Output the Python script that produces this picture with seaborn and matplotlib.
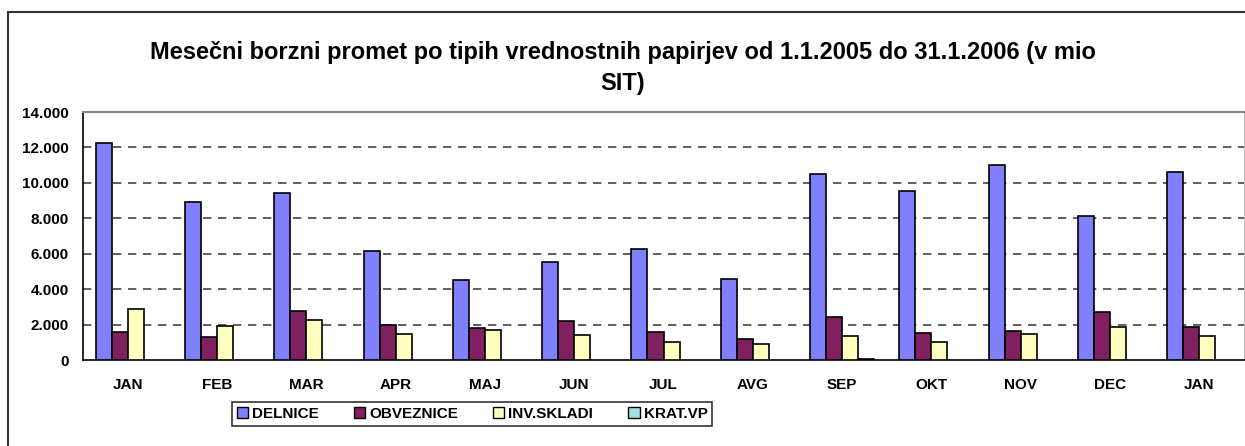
import pandas as pd
import numpy as np
import matplotlib.pyplot as plt
import seaborn as sns
from matplotlib.ticker import FuncFormatter, FixedLocator
import matplotlib.patches as mpatches

# podatki (v mio SIT), odčitani s slike
meseci = ['JAN', 'FEB', 'MAR', 'APR', 'MAJ', 'JUN', 'JUL', 'AVG', 'SEP', 'OKT', 'NOV', 'DEC', 'JAN']
delnice = [12270, 8940, 9410, 6150, 4530, 5530, 6250, 4570, 10480, 9520, 11010, 8110, 10630]
obveznice = [1560, 1320, 2780, 1980, 1790, 2180, 1560, 1200, 2450, 1510, 1640, 2690, 1850]
inv_skladi = [2860, 1920, 2260, 1450, 1710, 1410, 1000, 920, 1370, 1030, 1450, 1860, 1370]
krat_vp = [0, 0, 0, 0, 0, 0, 0, 0, 40, 0, 0, 0, 0]

serije = ['DELNICE', 'OBVEZNICE', 'INV.SKLADI', 'KRAT.VP']
barve = ['#8080FF', '#802060', '#FFFFC0', '#A0E0E0']

# long-form tabela za seaborn
rows = []
for name, vals in zip(serije, [delnice, obveznice, inv_skladi, krat_vp]):
    for i, v in enumerate(vals):
        rows.append({'idx': i, 'serija': name, 'vrednost': v})
df = pd.DataFrame(rows)

sns.set_style('white')
plt.rcParams['font.family'] = ['Liberation Sans', 'DejaVu Sans']
plt.rcParams['font.weight'] = 'bold'
plt.rcParams['text.color'] = 'black'
plt.rcParams['xtick.color'] = 'black'
plt.rcParams['ytick.color'] = 'black'
plt.rcParams['axes.labelcolor'] = 'black'

fig = plt.figure(figsize=(12.45, 4.46), dpi=100)
ax = fig.add_axes([83 / 1245, 1 - 360 / 446, 1161 / 1245, 248 / 446])

sns.barplot(data=df, x='idx', y='vrednost', hue='serija', hue_order=serije,
            palette=barve, width=0.717, edgecolor='black', linewidth=1.2,
            saturation=1, legend=False, ax=ax, zorder=3)

# stolpci z vrednostjo 0 se ne vidijo
for p in ax.patches:
    if p.get_height() == 0:
        p.set_linewidth(0)

ax.set_xlim(-0.5, len(meseci) - 0.5)
ax.set_ylim(0, 14000)
ax.set_yticks(np.arange(0, 14001, 2000))
ax.yaxis.set_major_formatter(FuncFormatter(lambda v, p: f'{int(v):,}'.replace(',', '.')))

# oznake mesecev na sredini, kljukice na mejah
ax.set_xticks(np.arange(-0.5, len(meseci), 1.0))
ax.set_xticklabels([])
ax.xaxis.set_minor_locator(FixedLocator(np.arange(len(meseci))))
ax.set_xticklabels(meseci, minor=True)
ax.tick_params(axis='x', which='major', direction='out', length=5, width=1, color='#555555')
ax.tick_params(axis='x', which='minor', length=0, pad=13, labelsize=11, labelcolor='black')
ax.tick_params(axis='y', direction='out', length=5, width=1, color='black', labelsize=11,
               pad=5, labelcolor='black')
for lab in ax.get_xticklabels(minor=True) + ax.get_yticklabels():
    lab.set_fontweight('bold')

ax.set_xlabel('')
ax.set_ylabel('')

# mreža
for y in range(2000, 14000, 2000):
    ax.axhline(y, color='#444444', linewidth=1.2, linestyle=(0, (5, 4)), zorder=1)

ax.spines['left'].set_color('black')
ax.spines['bottom'].set_color('black')
ax.spines['left'].set_linewidth(1.2)
ax.spines['bottom'].set_linewidth(1.2)
ax.spines['top'].set_color('#888888')
ax.spines['right'].set_color('#bbbbbb')
ax.spines['top'].set_linewidth(1.5)

fig.text(0.5, 1 - 68 / 446,
         'Mesečni borzni promet po tipih vrednostnih papirjev od 1.1.2005 do 31.1.2006 (v mio\nSIT)',
         ha='center', va='center', fontsize=17, fontweight='bold', linespacing=1.45,
         color='black')

# legenda
handles = [mpatches.Patch(facecolor=c, edgecolor='black', linewidth=1, label=s)
           for s, c in zip(serije, barve)]
leg = fig.legend(handles=handles, loc='center', bbox_to_anchor=(472 / 1245, 1 - 414 / 446),
                 ncol=4, frameon=True, fancybox=False,
                 handlelength=0.75, handleheight=0.75, handletextpad=0.25,
                 columnspacing=2.3, borderpad=0.3, prop={'weight': 'bold', 'size': 11})
leg.get_frame().set_edgecolor('black')
leg.get_frame().set_linewidth(1.2)
for t in leg.get_texts():
    t.set_color('black')

# okvir grafikona
fig.patches.append(mpatches.Rectangle((8 / 1245, -0.05), 1.1, 1 - 12 / 446 + 0.05,
                                      transform=fig.transFigure, fill=False,
                                      edgecolor='#333333', linewidth=1.5, zorder=0))

fig.savefig('out.png', dpi=100)
